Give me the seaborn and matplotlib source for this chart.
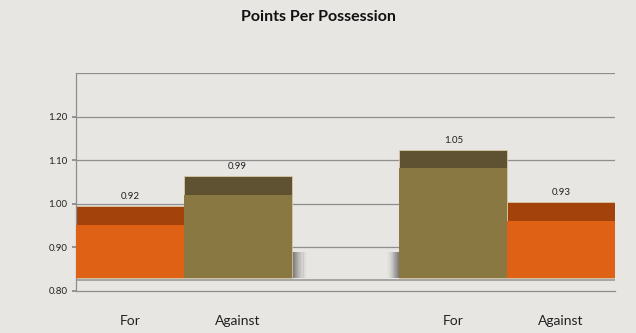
import matplotlib
matplotlib.use("Agg")
import matplotlib.pyplot as plt
import numpy as np
import pandas as pd
import seaborn as sns

# data
labels = ["For", "Against", "For", "Against"]
slots = [0, 1, 3, 4]          # slot 2 is the empty gap between the two pairs
teams = ["A", "B", "B", "A"]  # colour group of each bar
values = [0.92, 0.99, 1.05, 0.93]
y_ticks = [0.80, 0.90, 1.00, 1.10, 1.20, 1.30]

# fake 3d look of the original (Excel style perspective)
floor = 0.83
front_depth = 0.031
back_depth = 0.074

df = pd.DataFrame({"slot": slots, "label": labels, "team": teams, "value": values})
df["front"] = df["value"] + front_depth - floor
df["back"] = df["value"] + back_depth - floor

bg = "#e7e6e3"
sns.set_theme(style="white")
plt.rcParams["font.family"] = ["Lato", "DejaVu Sans"]

fig = plt.figure(figsize=(6.36, 3.33), dpi=100, facecolor=bg)
ax = fig.add_axes([76 / 636, 42 / 333, 539 / 636, 218 / 333])
ax.set_facecolor(bg)

order = [0, 1, 2, 3, 4]
top_pal = {"A": "#a4420c", "B": "#5f5232"}
front_pal = {"A": "#df6116", "B": "#8a7843"}

# gridlines first
for t in y_ticks[1:]:
    ax.axhline(t, color="#8e8e8e", lw=0.9, zorder=0)

# soft shadows in the gap
n = 14
for i in range(n):
    a = 0.75 * (1 - i / n) ** 1.5
    ax.bar(1.5 + i * 0.01, 0.06, width=0.011, bottom=floor, color="#4a4a4a",
           alpha=a, lw=0, align="edge", zorder=1)
    ax.bar(2.5 - (i + 1) * 0.008, 0.06, width=0.009, bottom=floor, color="#4a4a4a",
           alpha=a, lw=0, align="edge", zorder=1)

sns.barplot(data=df, x="slot", y="back", hue="team", order=order, palette=top_pal,
            dodge=False, width=1, bottom=floor, legend=False, ax=ax, saturation=1,
            edgecolor="#d9c9a6", linewidth=0.6, zorder=2)
sns.barplot(data=df, x="slot", y="front", hue="team", order=order, palette=front_pal,
            dodge=False, width=1, bottom=floor, legend=False, ax=ax, saturation=1,
            linewidth=0, zorder=3)

# thin grey floor line under bars
ax.axhline(floor - 0.004, color="#9a9a9a", lw=1.2, zorder=1.5)

for s, v in zip(df["slot"], df["value"]):
    ax.text(s, v + back_depth + 0.012, f"{v:.2f}", ha="center", va="bottom",
            fontsize=7, color="#222222", zorder=4)

ax.set_xlim(-0.5, 4.5)
ax.set_ylim(0.80, 1.30)
ax.set_yticks(y_ticks[:-1])
ax.set_yticklabels([f"{t:.2f}" for t in y_ticks[:-1]], fontsize=7, color="#222222")
ax.set_xticks(slots)
ax.set_xticklabels(labels, fontsize=10, color="#222222")
ax.set_xticks([-0.5, 0.5, 1.5, 2.5, 3.5, 4.5], minor=True)
ax.tick_params(axis="x", which="major", length=0, pad=17)
ax.tick_params(axis="x", which="minor", length=4, color="#888888", direction="inout")
ax.tick_params(axis="y", length=3, color="#888888", left=True, pad=3)
ax.set_xlabel("")
ax.set_ylabel("")

for side in ["top", "right"]:
    ax.spines[side].set_visible(False)
ax.spines["left"].set_color("#8e8e8e")
ax.spines["bottom"].set_color("#8e8e8e")
ax.spines["left"].set_linewidth(0.9)
ax.spines["bottom"].set_linewidth(0.9)

fig.text(0.5, 0.948, "Points Per Possession", ha="center", va="center",
         fontsize=11.5, fontweight="bold", color="#111111")

fig.savefig("out.png", dpi=100, facecolor=bg)
